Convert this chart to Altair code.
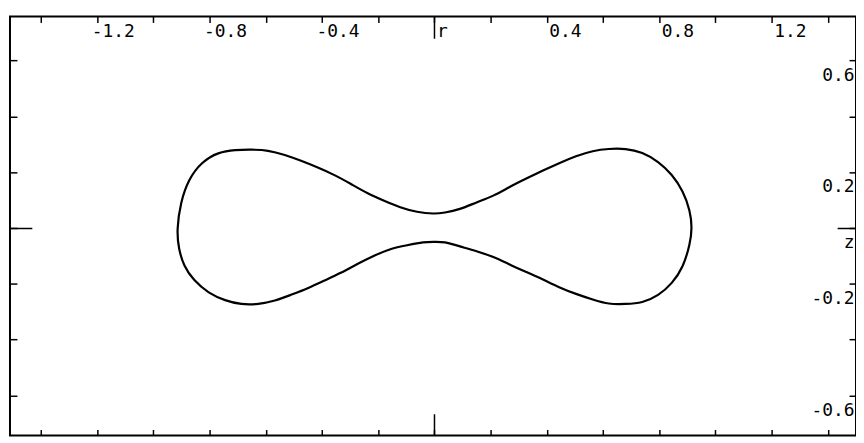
import altair as alt
import pandas as pd

# closed curve (r, z), traced from the left tip over the top
r_vals = [-0.917, -0.903, -0.875, -0.829, -0.769, -0.708, -0.652, -0.592, -0.532, -0.475,
          -0.415, -0.355, -0.299, -0.239, -0.178, -0.122, -0.062, 0.000, 0.034, 0.090,
          0.150, 0.210, 0.267, 0.327, 0.387, 0.443, 0.504, 0.564, 0.620, 0.680,
          0.740, 0.797, 0.846, 0.885, 0.910, 0.917, 0.910, 0.885, 0.846, 0.797,
          0.740, 0.680, 0.620, 0.564, 0.504, 0.443, 0.387, 0.327, 0.267, 0.210,
          0.150, 0.090, 0.034, 0.000, -0.037, -0.097, -0.157, -0.214, -0.274, -0.334,
          -0.390, -0.451, -0.511, -0.567, -0.627, -0.687, -0.744, -0.804, -0.857, -0.892,
          -0.910]
z_vals = [-0.008, 0.092, 0.174, 0.236, 0.272, 0.280, 0.281, 0.279, 0.262, 0.241,
          0.217, 0.190, 0.159, 0.124, 0.097, 0.073, 0.056, 0.050, 0.054, 0.066,
          0.092, 0.114, 0.147, 0.177, 0.206, 0.232, 0.258, 0.277, 0.284, 0.285,
          0.272, 0.238, 0.192, 0.132, 0.062, 0.001, -0.056, -0.142, -0.199, -0.243,
          -0.269, -0.273, -0.274, -0.257, -0.237, -0.213, -0.185, -0.158, -0.131, -0.103,
          -0.083, -0.066, -0.049, -0.050, -0.050, -0.062, -0.074, -0.099, -0.129, -0.162,
          -0.188, -0.217, -0.240, -0.262, -0.274, -0.275, -0.261, -0.234, -0.188, -0.136,
          -0.075]

r_ticks = [-1.4, -1.2, -1.0, -0.8, -0.6, -0.4, -0.2, 0.0, 0.2, 0.4, 0.6, 0.8, 1.0, 1.2, 1.4]
r_labels = {-1.2: "-1.2", -0.8: "-0.8", -0.4: "-0.4", 0.0: "r", 0.4: "0.4", 0.8: "0.8", 1.2: "1.2"}
z_ticks = [-0.6, -0.4, -0.2, 0.0, 0.2, 0.4, 0.6]
z_labels = {0.6: "0.6", 0.2: "0.2", 0.0: "z", -0.2: "-0.2", -0.6: "-0.6"}

r_domain = [-1.51, 1.5]
z_domain = [-0.744, 0.758]

W, H = 852, 422


def label_expr(d):
    return " : ".join(f"datum.value == {k} ? '{v}'" for k, v in d.items()) + " : ''"


df = pd.DataFrame({"r": r_vals, "z": z_vals, "i": list(range(len(r_vals)))})

FONT = "DejaVu Sans Mono"
common = dict(domain=False, title=None, tickColor="black", tickWidth=1.5,
              labelFont=FONT, labelFontSize=18, labelColor="black",
              labelOverlap=False, labelFlush=False)

top_axis = alt.Axis(orient="top", values=r_ticks, offset=-6, tickSize=6,
                    labelExpr=label_expr(r_labels), labelAlign="left", labelBaseline="top",
                    labelPadding=-6,
                    labelOffset={"condition": {"test": "datum.value < 0", "value": -6}, "value": 2},
                    grid=True, gridColor="black", gridWidth=1.5,
                    gridDash=[22, H - 44, 22, 300],
                    gridOpacity={"condition": {"test": "datum.value == 0", "value": 1}, "value": 0},
                    **common)
bottom_axis = alt.Axis(orient="bottom", values=r_ticks, offset=-6, tickSize=6,
                       labels=False, grid=False, **common)
left_axis = alt.Axis(orient="left", values=z_ticks, offset=-7, tickSize=7, labels=False,
                     grid=True, gridColor="black", gridWidth=1.5,
                     gridDash=[22, W - 41, 19, 300],
                     gridOpacity={"condition": {"test": "datum.value == 0", "value": 1}, "value": 0},
                     **common)
right_axis = alt.Axis(orient="right", values=z_ticks, offset=-7, tickSize=7,
                      labelExpr=label_expr(z_labels), labelAlign="right", labelBaseline="top",
                      labelPadding=-2, labelOffset=6, grid=False, **common)

xs = alt.Scale(domain=r_domain, zero=False, nice=False)
ys = alt.Scale(domain=z_domain, zero=False, nice=False)

curve = alt.Chart(df).mark_line(color="black", strokeWidth=2.2, interpolate="basis-closed").encode(
    x=alt.X("r:Q", scale=xs, axis=top_axis),
    y=alt.Y("z:Q", scale=ys, axis=left_axis),
    order=alt.Order("i:Q"),
)
ghost = alt.Chart(df).mark_line(color="black", strokeOpacity=0).encode(
    x=alt.X("r:Q", scale=xs, axis=bottom_axis),
    y=alt.Y("z:Q", scale=ys, axis=right_axis),
    order=alt.Order("i:Q"),
)

chart = (
    alt.layer(curve, ghost)
    .resolve_axis(x="independent", y="independent")
    .properties(width=W, height=H, background="white",
                padding={"left": 2, "top": 7, "right": 0, "bottom": 2},
                autosize=alt.AutoSizeParams(type="none"))
    .configure_view(stroke="black", strokeWidth=2)
)

chart.save("out.html", embed_options={"renderer": "svg", "actions": False})
